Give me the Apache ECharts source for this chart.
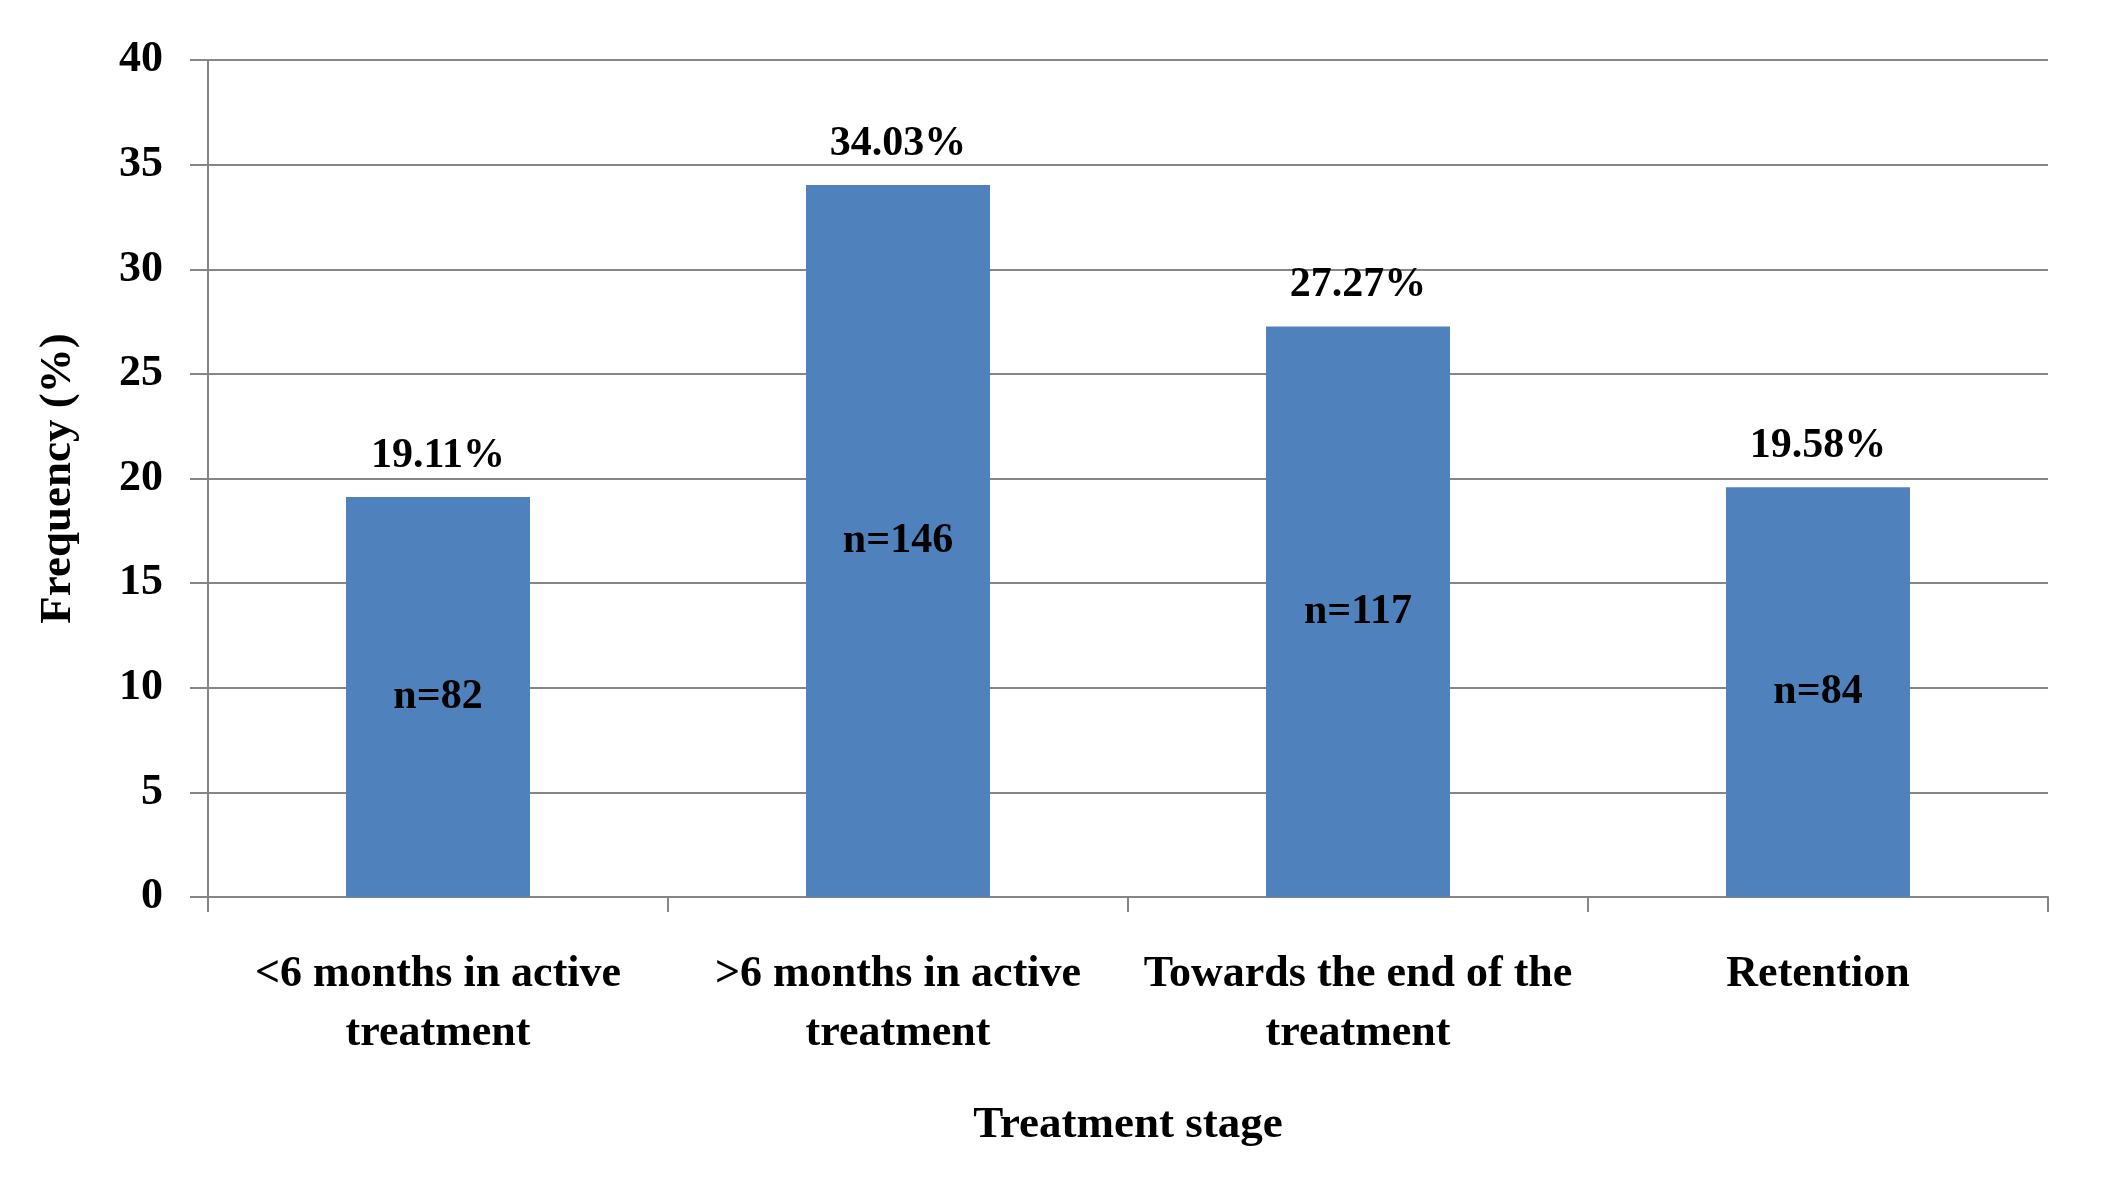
<!DOCTYPE html>
<html><head><meta charset="utf-8">
<script src="https://cdn.jsdelivr.net/npm/echarts@6/dist/echarts.min.js"></script>
<style>html,body{margin:0;padding:0;background:#fff}#c{width:2111px;height:1179px}</style>
</head><body><div id="c"></div>
<script>
const categories = ['<6 months in active\ntreatment', '>6 months in active\ntreatment', 'Towards the end of the\ntreatment', 'Retention'];
const frequencies = [19.11, 34.03, 27.27, 19.58];
const counts = [82, 146, 117, 84];
const yTicks = [0, 5, 10, 15, 20, 25, 30, 35, 40];

const FONT = '"Liberation Serif", "DejaVu Serif", serif';
const chart = echarts.init(document.getElementById('c'), null, {renderer: 'canvas'});
chart.setOption({
  animation: false,
  backgroundColor: '#ffffff',
  grid: {left: 208, right: 63, top: 60, bottom: 282, containLabel: false},
  xAxis: {
    type: 'category',
    data: categories,
    name: 'Treatment stage',
    nameLocation: 'middle',
    nameGap: 206,
    nameTextStyle: {fontFamily: FONT, fontWeight: 'bold', fontSize: 45, color: '#000'},
    axisLine: {lineStyle: {color: '#868686', width: 2}},
    axisTick: {show: true, length: 15, lineStyle: {color: '#868686', width: 2}},
    axisLabel: {fontFamily: FONT, fontWeight: 'bold', fontSize: 44, color: '#000', margin: 48, lineHeight: 59, interval: 0}
  },
  yAxis: {
    type: 'value',
    min: yTicks[0], max: yTicks[yTicks.length - 1], interval: 5,
    name: 'Frequency (%)',
    nameLocation: 'middle',
    nameGap: 127,
    nameTextStyle: {fontFamily: FONT, fontWeight: 'bold', fontSize: 45, color: '#000'},
    axisLine: {show: true, lineStyle: {color: '#868686', width: 2}},
    axisTick: {show: true, inside: false, length: 18, lineStyle: {color: '#868686', width: 2}},
    splitLine: {lineStyle: {color: '#868686', width: 2}},
    axisLabel: {fontFamily: FONT, fontWeight: 'bold', fontSize: 44, color: '#000', margin: 45}
  },
  series: [
    {
      type: 'bar',
      data: frequencies,
      barWidth: '40%',
      itemStyle: {color: '#4F81BD'},
      label: {
        show: true, position: 'top', distance: 20,
        fontFamily: FONT, fontWeight: 'bold', fontSize: 42, color: '#000',
        formatter: p => p.value.toFixed(2) + '%'
      }
    },
    {
      type: 'bar',
      data: frequencies,
      barWidth: '40%',
      barGap: '-100%',
      itemStyle: {color: 'transparent'},
      label: {
        show: true, position: 'inside',
        fontFamily: FONT, fontWeight: 'bold', fontSize: 42, color: '#000',
        formatter: p => 'n=' + counts[p.dataIndex]
      },
      z: 3
    }
  ]
});
</script></body></html>
